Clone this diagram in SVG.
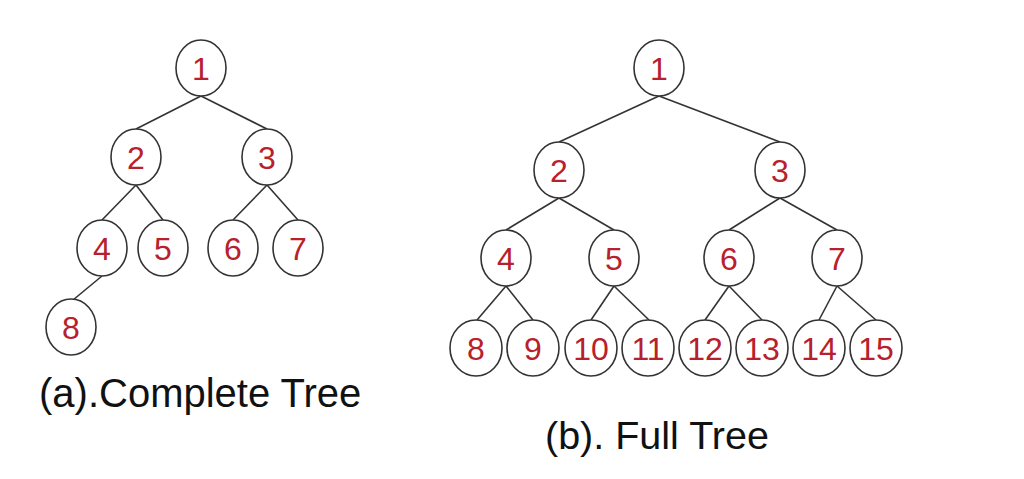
<svg xmlns="http://www.w3.org/2000/svg" width="1024" height="479" viewBox="0 0 1024 479">
<style>
.n ellipse{fill:#fff;stroke:#333;stroke-width:1.6}
.n text{font-family:"Liberation Sans",Arial,sans-serif;font-size:32px;fill:#b8202c;text-anchor:middle}
.e line{stroke:#333;stroke-width:1.6}
.cap{font-family:"Liberation Sans",Arial,sans-serif;font-size:39.5px;fill:#111}
</style>
<rect width="1024" height="479" fill="#fff"/>
<g class="e" id="edges-a">
<line x1="201" y1="96" x2="136" y2="129"/>
<line x1="201" y1="96" x2="267" y2="129"/>
<line x1="136" y1="185" x2="102" y2="220"/>
<line x1="136" y1="185" x2="163" y2="220"/>
<line x1="267" y1="185" x2="233" y2="220"/>
<line x1="267" y1="185" x2="298" y2="220"/>
<line x1="102" y1="276" x2="73" y2="300"/>
</g>
<g class="e" id="edges-b">
<line x1="659" y1="96" x2="559" y2="142"/>
<line x1="659" y1="96" x2="780" y2="142"/>
<line x1="559" y1="198" x2="506" y2="230"/>
<line x1="559" y1="198" x2="614" y2="230"/>
<line x1="780" y1="198" x2="729" y2="230"/>
<line x1="780" y1="198" x2="837" y2="230"/>
<line x1="506" y1="286" x2="477" y2="320"/>
<line x1="506" y1="286" x2="533" y2="320"/>
<line x1="614" y1="286" x2="591" y2="320"/>
<line x1="614" y1="286" x2="649" y2="320"/>
<line x1="729" y1="286" x2="705" y2="320"/>
<line x1="729" y1="286" x2="762" y2="320"/>
<line x1="837" y1="286" x2="819" y2="320"/>
<line x1="837" y1="286" x2="876" y2="320"/>
</g>
<g class="n" id="a1"><ellipse cx="201" cy="68" rx="25" ry="28"/><text x="201" y="80">1</text></g>
<g class="n" id="a2"><ellipse cx="136" cy="157" rx="25" ry="28"/><text x="136" y="169">2</text></g>
<g class="n" id="a3"><ellipse cx="267" cy="157" rx="25" ry="28"/><text x="267" y="169">3</text></g>
<g class="n" id="a4"><ellipse cx="102" cy="248" rx="25" ry="28"/><text x="102" y="260">4</text></g>
<g class="n" id="a5"><ellipse cx="163" cy="248" rx="25" ry="28"/><text x="163" y="260">5</text></g>
<g class="n" id="a6"><ellipse cx="233" cy="248" rx="25" ry="28"/><text x="233" y="260">6</text></g>
<g class="n" id="a7"><ellipse cx="298" cy="248" rx="25" ry="28"/><text x="298" y="260">7</text></g>
<g class="n" id="a8"><ellipse cx="71" cy="327" rx="25" ry="28"/><text x="71" y="339">8</text></g>
<g class="n" id="b1"><ellipse cx="659" cy="68" rx="25" ry="28"/><text x="659" y="80">1</text></g>
<g class="n" id="b2"><ellipse cx="559" cy="170" rx="25" ry="28"/><text x="559" y="182">2</text></g>
<g class="n" id="b3"><ellipse cx="780" cy="170" rx="25" ry="28"/><text x="780" y="182">3</text></g>
<g class="n" id="b4"><ellipse cx="506" cy="258" rx="25" ry="28"/><text x="506" y="270">4</text></g>
<g class="n" id="b5"><ellipse cx="614" cy="258" rx="25" ry="28"/><text x="614" y="270">5</text></g>
<g class="n" id="b6"><ellipse cx="729" cy="258" rx="25" ry="28"/><text x="729" y="270">6</text></g>
<g class="n" id="b7"><ellipse cx="837" cy="258" rx="25" ry="28"/><text x="837" y="270">7</text></g>
<g class="n" id="b8"><ellipse cx="476" cy="348" rx="26" ry="28"/><text x="476" y="360">8</text></g>
<g class="n" id="b9"><ellipse cx="533" cy="348" rx="26" ry="28"/><text x="533" y="360">9</text></g>
<g class="n" id="b10"><ellipse cx="591" cy="348" rx="26" ry="28"/><text x="591" y="360">10</text></g>
<g class="n" id="b11"><ellipse cx="648" cy="348" rx="26" ry="28"/><text x="648" y="360">11</text></g>
<g class="n" id="b12"><ellipse cx="705" cy="348" rx="26" ry="28"/><text x="705" y="360">12</text></g>
<g class="n" id="b13"><ellipse cx="762" cy="348" rx="26" ry="28"/><text x="762" y="360">13</text></g>
<g class="n" id="b14"><ellipse cx="819" cy="348" rx="26" ry="28"/><text x="819" y="360">14</text></g>
<g class="n" id="b15"><ellipse cx="876" cy="348" rx="26" ry="28"/><text x="876" y="360">15</text></g>
<text class="cap" x="39" y="407" style="font-size:40px">(a).Complete Tree</text>
<text class="cap" x="545" y="449">(b). Full Tree</text>
</svg>
